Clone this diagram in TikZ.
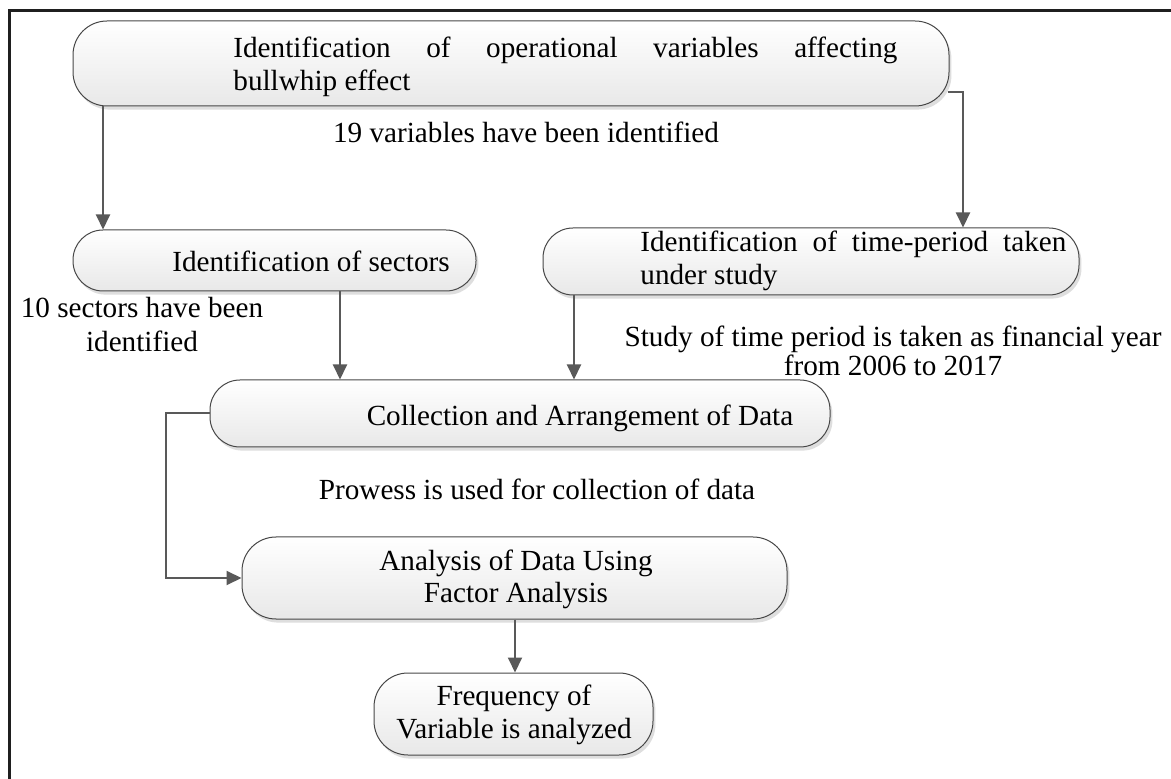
\documentclass[tikz,border=0pt]{standalone}
\usepackage{fontspec}
\setmainfont{Liberation Serif}
\usetikzlibrary{arrows.meta,shadows,calc}
\begin{document}
\begin{tikzpicture}[x=0.5pt,y=-0.5pt,
  box/.style={rectangle, rounded corners=15pt, draw=black!72, line width=0.5pt,
    top color=white, bottom color=black!9,
    drop shadow={shadow xshift=1.2pt, shadow yshift=-1.8pt, fill=black!13, opacity=1},
    inner sep=0pt},
  lbl/.style={inner sep=0pt, font=\fontsize{14.6}{17}\selectfont, anchor=base},
  lbll/.style={lbl, anchor=base west},
  arr/.style={draw=black!65, line width=1pt, -{Triangle[length=7.5pt,width=7pt]}},
  frame/.style={draw=black!88, line width=1.5pt}]
\useasboundingbox (0,0) rectangle (1171,779);
\fill[white] (0,0) rectangle (1171,779);
% frame
\draw[frame] (9,779) -- (9,11) -- (1171,11);
% boxes
\node[box, minimum width=438pt, minimum height=42.5pt, rounded corners=17pt] (top) at (511,63.5) {};
\node[box, minimum width=201.5pt, minimum height=30.5pt] (sec) at (274.5,260.5) {};
\node[box, minimum width=268pt, minimum height=33.5pt] (time) at (811,261.5) {};
\node[box, minimum width=310pt, minimum height=33.5pt] (coll) at (520,413.5) {};
\node[box, minimum width=272.5pt, minimum height=41pt, rounded corners=17pt] (ana) at (514.5,578) {};
\node[box, minimum width=139.5pt, minimum height=41pt, rounded corners=17pt] (freq) at (513.5,714) {};
% texts in boxes
\node[lbll] (t1a) at (233,58) {\makebox[332pt][s]{Identification of operational variables affecting}};
\node[lbll] (t1b) at (233,91) {bullwhip effect};
\node[lbl] (t2) at (311,272) {Identification of sectors};
\node[lbll] (t3a) at (640,252) {\makebox[213pt][s]{Identification of time-period taken}};
\node[lbll] (t3b) at (640,285) {under study};
\node[lbl] (t4) at (580,426) {Collection and Arrangement of Data};
\node[lbl] (t5a) at (516,570) {Analysis of Data Using};
\node[lbl] (t5b) at (516,603) {Factor Analysis};
\node[lbl] (t6a) at (514,705) {Frequency of};
\node[lbl] (t6b) at (514,738) {Variable is analyzed};
% free labels
\node[lbl] (l1) at (526,143) {19 variables have been identified};
\node[lbl] (l2a) at (142,318) {10 sectors have been};
\node[lbl] (l2b) at (142,352) {identified};
\node[lbl] (l3a) at (893,347) {Study of time period is taken as financial year};
\node[lbl] (l3b) at (893,376) {from 2006 to 2017};
\node[lbl] (l4) at (537,500) {Prowess is used for collection of data};
% connectors
\coordinate (cl) at (103,0);
\coordinate (ctr) at (963,92);
\coordinate (cs) at (340,0);
\coordinate (ct) at (574,0);
\coordinate (cb) at (166,0);
\coordinate (cf) at (515,0);
\draw[arr] (top.south -| cl) -- (sec.north -| cl);
\draw[arr] ($(top.east)+(-2,28.5)$) -- (ctr) -- (ctr |- time.north);
\draw[arr] (sec.south -| cs) -- (coll.north -| cs);
\draw[arr] (time.south -| ct) -- (coll.north -| ct);
\draw[arr] (coll.west) -- (coll.west -| cb) -- (ana.west -| cb) -- (ana.west);
\draw[arr] (ana.south -| cf) -- (freq.north -| cf);
\end{tikzpicture}
\end{document}
